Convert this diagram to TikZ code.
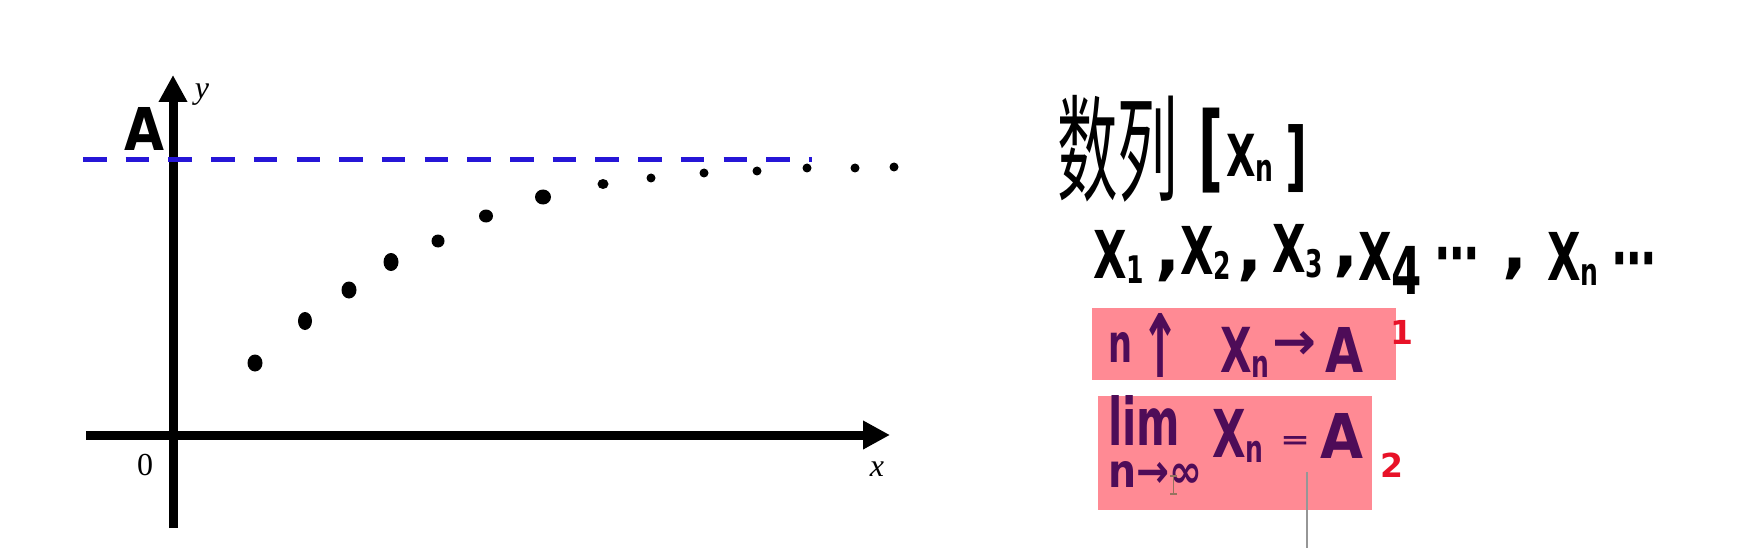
\documentclass[tikz,border=0pt]{standalone}
\usepackage{fontspec}
\usepackage{graphicx}
\setmainfont{DejaVu Sans}
\newfontfamily\cjkfont{Noto Sans CJK SC}
\newfontfamily\serifont{Liberation Serif}
\usetikzlibrary{arrows.meta}
\definecolor{pinkbg}{RGB}{255,138,148}
\definecolor{hwpurple}{RGB}{78,12,88}
\definecolor{numred}{RGB}{232,18,40}
\definecolor{dashblue}{RGB}{38,22,215}
\definecolor{cursorgray}{RGB}{150,150,150}
\definecolor{ibeam}{RGB}{150,115,95}
\newcommand{\hsq}[1]{\scalebox{0.66}[1]{#1}}
\newcommand{\hwsub}[1]{\raisebox{-5pt}{\fontsize{38}{38}\selectfont #1}}
\tikzset{
  axisline/.style={line width=9pt, -{Triangle[length=27pt,width=27pt]}},
  hw/.style={font=\fontsize{66}{66}\selectfont\bfseries},
  axlabel/.style={font=\serifont\fontsize{32}{32}\selectfont},
  tag/.style={text=numred, font=\fontsize{33}{33}\selectfont\bfseries},
  pinkbox/.style={fill=pinkbg, draw=none},
  purp/.style={text=hwpurple},
}
\begin{document}
\begin{tikzpicture}[x=1pt,y=-1pt, every node/.style={inner sep=0pt}]
\useasboundingbox (0,0) rectangle (1752,548);
\fill[white] (0,0) rectangle (1752,548);

% ---------- graph ----------
\coordinate (ybot) at (173,528);
\coordinate (ytop) at (173,75);
\coordinate (xl) at (86,435);
\coordinate (xr) at (890,435);
\draw[axisline] (ybot) -- (ytop);
\draw[axisline] (xl) -- (xr);

\coordinate (dl) at (83,159.5);
\coordinate (dr) at (812,159.5);
\draw[dashblue, line width=5pt, dash pattern=on 23.5pt off 19.2pt] (dl) -- (dr);

\foreach \px/\py/\rx/\ry in {255/363/7.5/8.5, 305/321/7/9, 349/290/7.5/8.5, 391/262/7.5/9,
  438/241/6.5/6.5, 486/216/7/6.5, 543/197/8/7.5, 603/184/5.5/5, 651/178/4.5/4.5,
  704/173/4.5/4.5, 757/171/4.5/4.5, 807/168/4.5/4.5, 855/168/4.5/4.5, 894/167/4.5/4.5}
  \fill[black] (\px,\py) ellipse [x radius=\rx pt, y radius=\ry pt];

\node (Alab) at (145,128.5) {\resizebox*{40pt}{43pt}{\bfseries A}};
\node[axlabel] (ylab) at (202,95) {\itshape y};
\node[axlabel] (olab) at (145,465) {0};
\node[axlabel] (xlab) at (877,469) {\itshape x};

% ---------- right: title ----------
\node (shulie) at (1117.5,148.5) {\resizebox*{121pt}{107pt}{\cjkfont 数列}};
\node (lbr) at (1210.5,150.5) {\resizebox*{25pt}{85pt}{\bfseries [}};
\node[hw, anchor=base west, font=\fontsize{58}{58}\selectfont\bfseries] (tXn) at (1226,177) {\hsq{X\hwsub{n}}};
\node (rbr) at (1296,159) {\resizebox*{22pt}{68pt}{\bfseries ]}};

% ---------- sequence row ----------
\node[hw, anchor=base west] (x1) at (1093,278) {\hsq{X\hwsub{1}}};
\node[hw, anchor=base west] (c1) at (1155,272) {,};
\node[hw, anchor=base west] (x2) at (1180,274) {\hsq{X\hwsub{2}}};
\node[hw, anchor=base west] (c2) at (1237,272) {,};
\node[hw, anchor=base west] (x3) at (1272,272) {\hsq{X\hwsub{3}}};
\node[hw, anchor=base west] (c3) at (1333,268) {,};
\node[hw, anchor=base west] (x4) at (1358,280) {\hsq{X\raisebox{-14pt}{4}}};
\node[hw, anchor=base] (d1) at (1457,276) {\hsq{⋯}};
\node[hw, anchor=base west] (c4) at (1502,270) {,};
\node[hw, anchor=base west] (xn) at (1547,280) {\hsq{X\hwsub{n}}};
\node[hw, anchor=base] (d2) at (1634,281) {\hsq{⋯}};

% ---------- box 1 ----------
\node[pinkbox, minimum width=304pt, minimum height=72pt] (box1) at (1244,344) {};
\node[purp] (bn) at (1120,347) {\resizebox*{24pt}{30pt}{\bfseries n}};
\node[purp] (up) at (1160,345) {\resizebox*{40pt}{64pt}{\bfseries ↑}};
\node[purp, hw, anchor=base west, font=\fontsize{62}{62}\selectfont\bfseries] (bxn) at (1220,372) {\hsq{X\hwsub{n}}};
\node[purp] (rarr) at (1294,345.5) {\resizebox*{44pt}{28pt}{\bfseries →}};
\node[purp] (bA) at (1344,349.5) {\resizebox*{38pt}{45pt}{\bfseries A}};
\node[tag] (t1) at (1402,332) {1};

% ---------- box 2 ----------
\node[pinkbox, minimum width=274pt, minimum height=114pt] (box2) at (1235,453) {};
\node[purp] (lim) at (1144,420) {\resizebox*{72pt}{50pt}{\bfseries lim}};
\node[purp] (ninf) at (1155,474) {\resizebox*{94pt}{26pt}{\bfseries n→∞}};
\node[purp, hw, anchor=base west] (lxn) at (1212,457) {\hsq{X\hwsub{n}}};
\node[purp] (eq) at (1295,442) {\resizebox*{30pt}{12pt}{\bfseries =}};
\node[purp] (lA) at (1341.5,435.5) {\resizebox*{43pt}{45pt}{\bfseries A}};
\node[tag] (t2) at (1391.5,465) {2};

% ---------- cursor artefacts ----------
\coordinate (gtop) at (1307,472);
\coordinate (gbot) at (1307,548);
\draw[cursorgray, line width=2pt] (gtop) -- (gbot);
\coordinate (ib1) at (1173.5,476);
\coordinate (ib2) at (1173.5,494);
\draw[ibeam, line width=1.3pt] (ib1) -- (ib2);
\draw[ibeam, line width=1.3pt] ([xshift=-3.5pt]ib1) -- ([xshift=3.5pt]ib1);
\draw[ibeam, line width=1.3pt] ([xshift=-3.5pt]ib2) -- ([xshift=3.5pt]ib2);
\end{tikzpicture}
\end{document}
